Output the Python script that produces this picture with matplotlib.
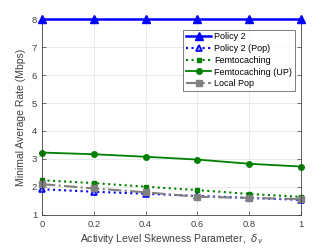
import matplotlib
matplotlib.use("Agg")
import matplotlib.pyplot as plt

x = [0, 0.2, 0.4, 0.6, 0.8, 1]
policy2 = [8, 8, 8, 8, 8, 8]
policy2_pop = [1.92, 1.83, 1.76, 1.68, 1.61, 1.54]
femto = [2.24, 2.14, 2.01, 1.89, 1.75, 1.65]
femto_up = [3.23, 3.17, 3.08, 2.98, 2.83, 2.73]
local_pop = [2.10, 1.95, 1.81, 1.65, 1.61, 1.57]

plt.rcParams['font.family'] = ['Liberation Sans', 'DejaVu Sans']
plt.rcParams['font.size'] = 6.8

fig = plt.figure(figsize=(3.32, 2.49), dpi=100)
ax = fig.add_axes([42 / 332, 1 - 215 / 249, 259 / 332, 196 / 249])

green = '#008000'
ax.plot(x, policy2, '-^', color='blue', lw=1.8, ms=6, label='Policy 2', clip_on=False, zorder=5)
ax.plot(x, policy2_pop, ':^', color='blue', lw=1.5, ms=5, mfc='#9999ff', mew=1.2, label='Policy 2 (Pop)', clip_on=False)
ax.plot(x, femto, ':s', color=green, lw=1.5, ms=3.5, label='Femtocaching', clip_on=False)
ax.plot(x, femto_up, '-o', color=green, lw=1.3, ms=4, label='Femtocaching (UP)', clip_on=False)
ax.plot(x, local_pop, '-.s', color='gray', lw=1.5, ms=4.5, label='Local Pop', clip_on=False)

ax.set_xlim(0, 1)
ax.set_ylim(1, 8)
ax.set_xticks(x)
ax.set_xticklabels(['0', '0.2', '0.4', '0.6', '0.8', '1'])
ax.set_yticks(range(1, 9))
ax.grid(True, color='#e6e6e6', lw=0.6)
ax.set_axisbelow(True)
ax.tick_params(direction='in', length=3, colors='#404040', top=True, right=True, width=0.5)
for s in ax.spines.values():
    s.set_color('#404040')
    s.set_linewidth(0.6)

ax.set_xlabel(r'Activity Level Skewness Parameter,  $\delta_v$', color='#404040', fontsize=7.5, labelpad=2)
ax.set_ylabel('Minimal Average Rate (Mbps)', color='#404040', fontsize=7.5, labelpad=4)

leg = ax.legend(loc='upper right', bbox_to_anchor=(0.975, 0.945), fontsize=6.5, fancybox=False,
                handlelength=2.8, borderpad=0.3, labelspacing=0.3, handletextpad=0.3, borderaxespad=0)
leg.get_frame().set_edgecolor('#404040')
leg.get_frame().set_linewidth(0.6)

fig.savefig('out.png', dpi=100)
